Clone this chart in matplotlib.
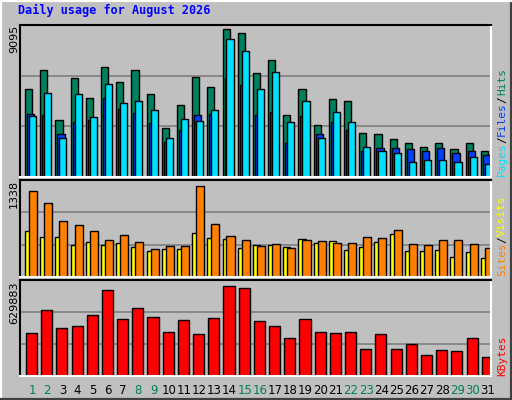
import matplotlib
matplotlib.use("Agg")
import matplotlib.pyplot as plt
import numpy as np

days = list(range(1, 32))
hits = [5240,6380,3430,5900,4700,6560,5660,6380,4940,2950,4280,5960,5360,8850,8610,6200,
        6990,3730,5240,3130,4640,4520,2650,2590,2290,2050,1810,2050,1690,2050,1570]
files = [3670,5000,2350,4940,3610,5540,4400,4520,4030,2350,3490,3370,4030,8250,7530,5240,
         6260,3310,4520,2350,3910,3310,1810,1570,1440,900,1020,1020,900,1200,780]
pages = [3790,3730,2590,3310,3430,4700,4090,3850,3250,2110,2830,3730,3790,5900,5480,3730,
         3910,2050,3670,2590,3310,2830,1570,1750,1750,1690,1570,1750,1440,1570,1320]
sites = [1216,1049,797,741,657,531,601,503,391,447,447,1291,755,587,531,447,
         475,405,531,517,489,489,573,559,671,475,461,531,531,475,419]
visits = [657,573,573,461,503,461,489,433,363,391,391,629,559,545,419,461,
          461,433,545,489,517,377,433,503,615,363,363,377,280,349,266]
kbytes = [293930,446420,327080,340340,413270,579020,386750,459680,400010,300560,380120,280670,
          393380,605540,592280,373490,340340,254150,386750,300560,287300,300560,181220,280670,
          181220,214370,141440,174590,167960,254150,128180]
weekend = {1,2,8,9,15,16,22,23,29,30}
max_top, max_mid, max_bot = 9095, 1338, 629883

W, H = 512, 400
fig = plt.figure(figsize=(W/100, H/100), dpi=100, facecolor='#c0c0c0')
d = np.array(days)

def ax_at(x0, y0, x1, y1):
    ax = fig.add_axes([x0/W, 1-y1/H, (x1-x0)/W, (y1-y0)/H])
    ax.set_facecolor('#c0c0c0')
    ax.set_xlim(0.21, 31.21)
    ax.set_xticks([]); ax.set_yticks([])
    ax.spines['top'].set_color('black'); ax.spines['left'].set_color('black')
    ax.spines['bottom'].set_color('white'); ax.spines['right'].set_color('white')
    for s in ax.spines.values(): s.set_linewidth(1.5)
    return ax

def grid(ax, m):
    for f in (1/3, 2/3):
        ax.axhline(m*f, color='#808080', lw=1.2, zorder=0)
    ax.set_ylim(0, m)

kw = dict(align='edge', edgecolor='black', linewidth=1, zorder=2)
ax1 = ax_at(20, 25, 491, 177); grid(ax1, max_top*1.0)
ax1.bar(d-0.46, hits, 0.47, color='#00805c', **kw)
ax1.bar(d-0.33, pages, 0.47, color='#0040ff', **kw)
ax1.bar(d-0.20, files, 0.47, color='#00e0ff', **kw)

ax2 = ax_at(20, 180, 491, 277); grid(ax2, max_mid*1.03)
ax2.bar(d-0.46, visits, 0.47, color='#ffff00', **kw)
ax2.bar(d-0.20, sites, 0.53, color='#ff8000', **kw)

ax3 = ax_at(20, 280, 491, 376); grid(ax3, max_bot*1.03)
ax3.bar(d-0.40, kbytes, 0.73, color='#ff0000', **kw)
for i in days:
    ax3.text(i, -0.08, str(i), transform=ax3.get_xaxis_transform(), ha='center', va='top',
             fontsize=8.5, family='DejaVu Sans',
             color='#00805c' if i in weekend else 'black')

fig.text(18/W, 1-10/H, 'Daily usage for August 2026', color='#0000ff', fontsize=8.5,
         fontweight='bold', family='DejaVu Sans Mono', va='center')
for txt, ytop in [(str(max_top), 25), (str(max_mid), 180), (str(max_bot), 281)]:
    fig.text(14/W, 1-ytop/H, txt, rotation=90, fontsize=8, va='top', ha='center')

def side(parts, ybot):
    y = ybot
    for t, c in parts:
        tt = fig.text(502/W, 1-y/H, t, rotation=90, color=c, fontsize=8,
                      family='DejaVu Sans Mono', ha='center', va='bottom')
        y -= len(t)*6.4 + 1
side([('Pages', '#00e0ff'), ('/', 'black'), ('Files', '#0040ff'), ('/', 'black'), ('Hits', '#00805c')], 176)
side([('Sites', '#ff8000'), ('/', 'black'), ('Visits', '#ffff00')], 276)
side([('KBytes', '#ff0000')], 376)

# outer border
bx = fig.add_axes([0, 0, 1, 1], facecolor='none'); bx.set_xticks([]); bx.set_yticks([])
bx.set_zorder(-1)
for k, s in bx.spines.items():
    s.set_linewidth(3); s.set_color('#404040' if k in ('bottom', 'right') else 'white')
fig.savefig('out.png', dpi=100, facecolor='#c0c0c0')
